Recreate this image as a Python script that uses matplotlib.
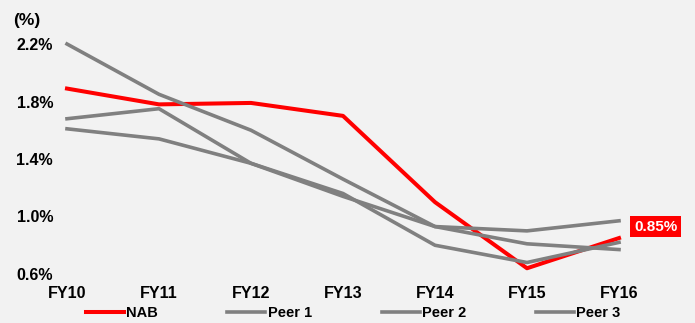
import matplotlib
matplotlib.use('Agg')
import matplotlib.pyplot as plt

years = ["FY10", "FY11", "FY12", "FY13", "FY14", "FY15", "FY16"]
nab = [1.89, 1.78, 1.79, 1.70, 1.10, 0.64, 0.85]
peer1 = [2.20, 1.85, 1.60, 1.26, 0.93, 0.90, 0.97]
peer2 = [1.68, 1.75, 1.37, 1.16, 0.80, 0.68, 0.82]
peer3 = [1.61, 1.54, 1.37, 1.14, 0.93, 0.81, 0.77]
yticks = [0.6, 1.0, 1.4, 1.8, 2.2]

RED = "#ff0000"
GREY = "#808080"
BG = "#f2f2f2"

plt.rcParams['font.family'] = ['Liberation Sans', 'DejaVu Sans']
plt.rcParams['font.weight'] = 'bold'

fig = plt.figure(figsize=(6.95, 3.23), dpi=100)
fig.patch.set_facecolor(BG)
ax = fig.add_axes([67 / 695, 1 - 274 / 323, (619 - 67) / 695, (274 - 44) / 323])
ax.set_facecolor(BG)

x = list(range(len(years)))
ax.plot(x, nab, color=RED, lw=2.9, label="NAB", clip_on=False, zorder=2)
ax.plot(x, peer1, color=GREY, lw=2.6, label="Peer 1", clip_on=False, zorder=3)
ax.plot(x, peer2, color=GREY, lw=2.6, label="Peer 2", clip_on=False, zorder=3)
ax.plot(x, peer3, color=GREY, lw=2.6, label="Peer 3", clip_on=False, zorder=3)

ax.set_xlim(0, 6)
ax.set_ylim(0.6, 2.2)
ax.set_xticks(x)
ax.set_xticklabels(years, fontsize=11.5, fontweight='bold')
ax.set_yticks(yticks)
ax.set_yticklabels([f"{v:.1f}%" for v in yticks], fontsize=11.5, fontweight='bold')
ax.tick_params(length=0)
ax.tick_params(axis='y', pad=10)
ax.tick_params(axis='x', pad=9)
for s in ax.spines.values():
    s.set_visible(False)

# end label
ax.text(6.40, 0.93, f"{nab[-1]:.2f}%", color="white", fontsize=11, fontweight='bold',
        ha='center', va='center', clip_on=False,
        bbox=dict(boxstyle='square,pad=0.25', fc=RED, ec='none'))

fig.text(13 / 695, 1 - 20 / 323, "(%)", fontsize=12.5, fontweight='bold',
         ha='left', va='center')

fig.legend(loc='center', bbox_to_anchor=(353 / 695, 1 - 313 / 323), ncol=4,
           frameon=False, fontsize=10.5, handlelength=2.6, handletextpad=0.15,
           columnspacing=4.8, borderaxespad=0)

fig.savefig("out.png", dpi=100, facecolor=BG)
